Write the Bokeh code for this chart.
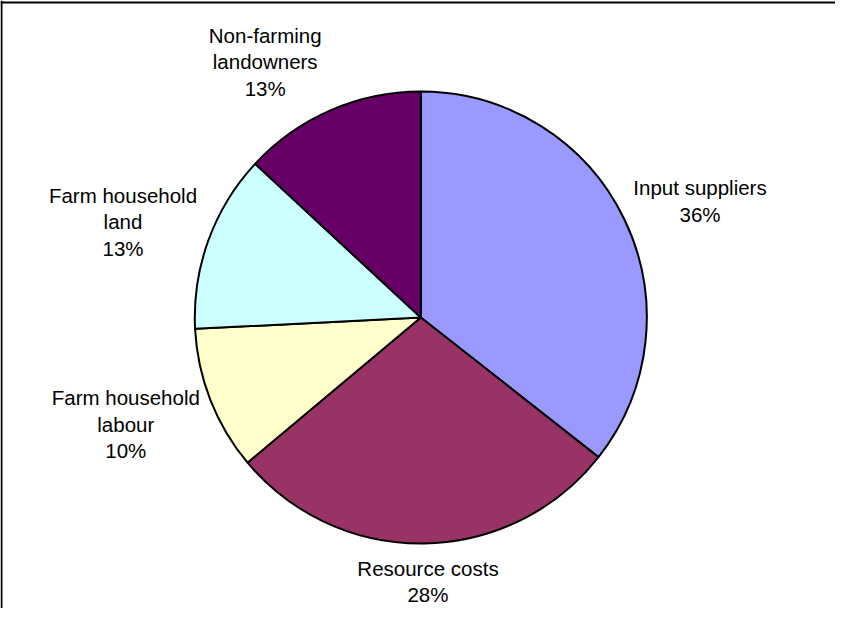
import math
from bokeh.plotting import figure
from bokeh.models import ColumnDataSource, Range1d, Span
from bokeh.core.properties import value
from bokeh.embed import file_html
from bokeh.resources import INLINE

# ---- data ----
categories = ["Input suppliers", "Resource costs", "Farm household labour",
              "Farm household land", "Non-farming landowners"]
label_text = ["Input suppliers\n36%", "Resource costs\n28%", "Farm household\nlabour\n10%",
              "Farm household\nland\n13%", "Non-farming\nlandowners\n13%"]
shares = [35.6, 28.3, 10.3, 12.7, 13.1]
colors = ["#9999FF", "#993366", "#FFFFCC", "#CCFFFF", "#660066"]

# ---- layout (pixel-like units) ----
W, H = 835, 608
cx, cy, r = 420.3, 299.0, 226.0
label_x = [699.5, 427.5, 125.3, 122.5, 264.7]
label_y = [415.3, 35.0, 192.3, 394.5, 554.5]

total = sum(shares)
starts, ends = [], []
acc = 0.0
for s in shares:
    starts.append(math.pi / 2 - 2 * math.pi * acc / total)
    acc += s
    ends.append(math.pi / 2 - 2 * math.pi * acc / total)

src = ColumnDataSource(dict(cat=categories, start=starts, end=ends, color=colors,
                            x=[cx] * len(shares), y=[cy] * len(shares)))
lab = ColumnDataSource(dict(text=label_text, x=label_x, y=label_y))

p = figure(width=W, height=H, output_backend="svg", toolbar_location=None,
           x_range=Range1d(0, W), y_range=Range1d(8, 616),
           x_axis_location=None, y_axis_location=None, min_border=0)
p.grid.visible = False
p.outline_line_color = None
p.background_fill_color = "white"
p.border_fill_color = "white"

p.wedge(x="x", y="y", radius=r, start_angle="start", end_angle="end", direction="clock",
        fill_color="color", line_color="black", line_width=2, source=src)

p.text(x="x", y="y", text="text", source=lab, text_align="center", text_baseline="middle",
       text_font=value("Liberation Sans"), text_font_size="20.5px", text_color="black",
       text_line_height=1.15)

p.add_layout(Span(location=614, dimension="width", line_color="black", line_width=2))
p.add_layout(Span(location=1, dimension="height", line_color="black", line_width=2))

open("out.html", "w").write(file_html(p, INLINE))
